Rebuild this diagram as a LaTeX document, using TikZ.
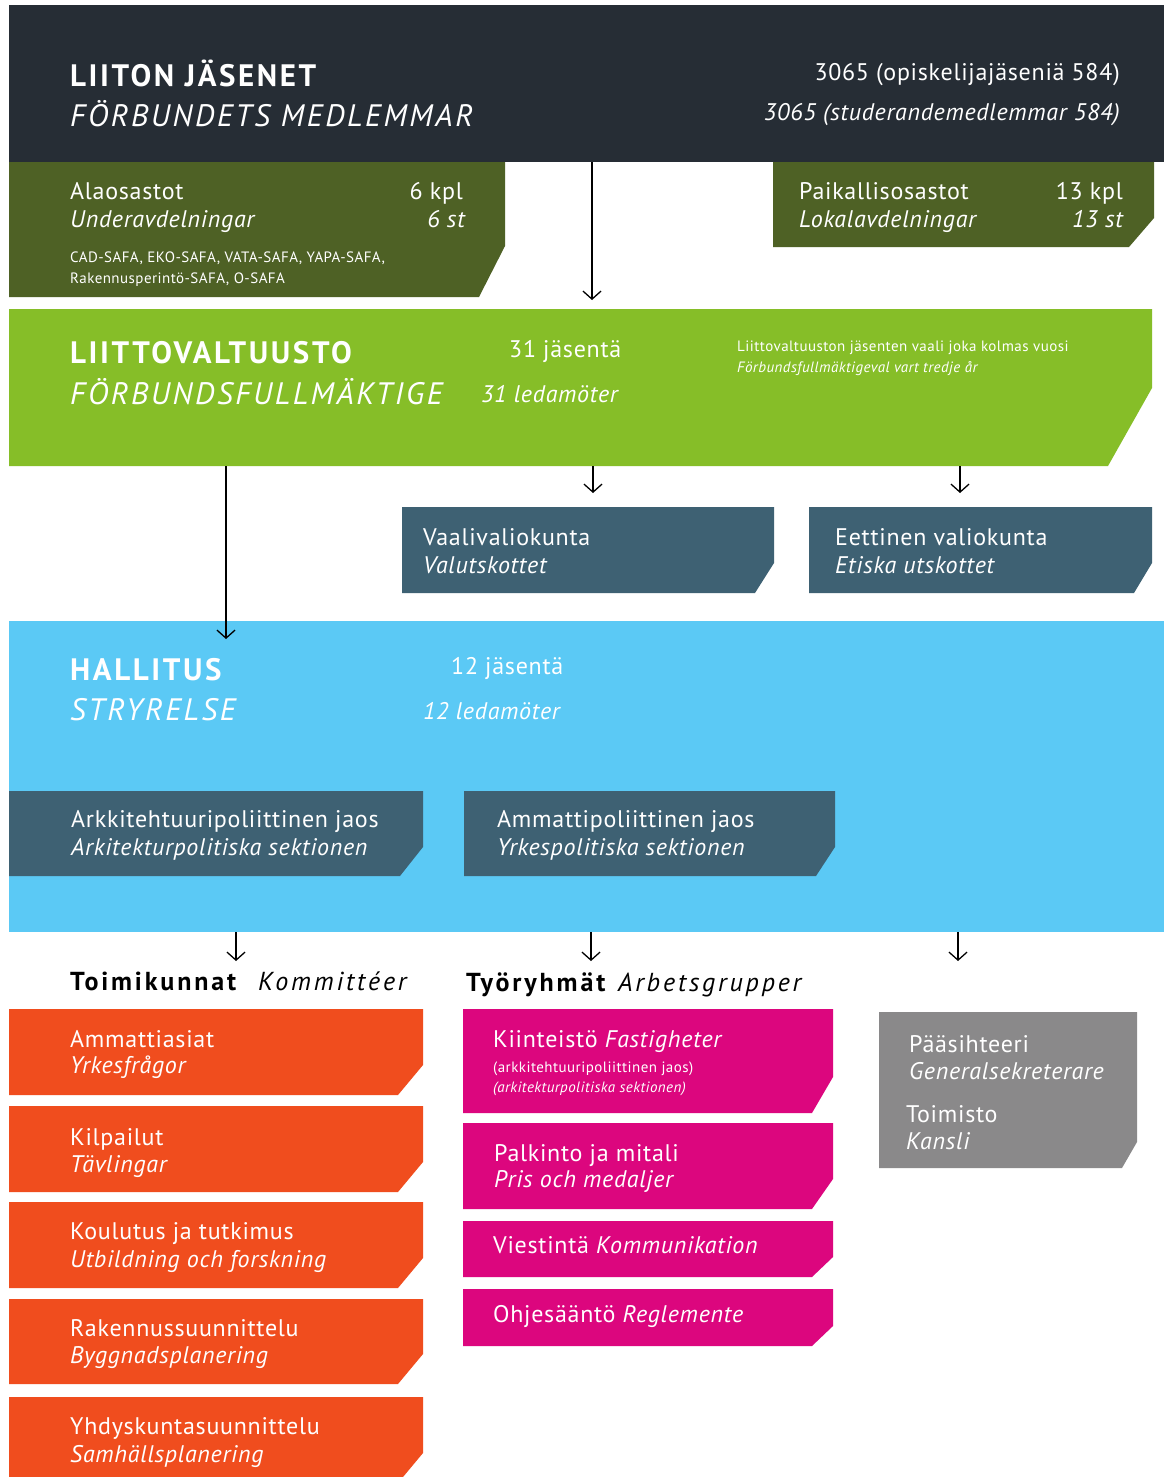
\documentclass[tikz,border=0pt]{standalone}
\usepackage{fontspec}
\setmainfont{PT Sans}[LetterSpace=3]
\newfontfamily\ttlfont{PT Sans}[LetterSpace=8.4]
\newfontfamily\hdfont{PT Sans}[LetterSpace=11]
\usetikzlibrary{arrows.meta}
\definecolor{cdark}{HTML}{262D35}
\definecolor{colive}{HTML}{4E6125}
\definecolor{cgreen}{HTML}{86BE28}
\definecolor{cslate}{HTML}{3E6173}
\definecolor{cblue}{HTML}{5BC9F5}
\definecolor{corange}{HTML}{F04D1E}
\definecolor{cmag}{HTML}{DC067E}
\definecolor{cgray}{HTML}{8A898A}
\newcommand\fsz[1]{\fontsize{#1}{#1}\selectfont}
\newcommand\cutbox[7]{\fill[#1] (#2,#3) -- (#4,#3) -- (#4,{#5-#7}) -- ({#4-#6},#5) -- (#2,#5) -- cycle;}
\tikzset{
  bt/.style={anchor=base west, inner sep=0pt, text=white, font=\fsz{24}},
  bi/.style={bt, font=\fsz{24}\itshape},
  btr/.style={bt, anchor=base east},
  bir/.style={bi, anchor=base east},
  ttl/.style={anchor=base west, inner sep=0pt, text=white, font=\ttlfont\fsz{31}\bfseries},
  tti/.style={anchor=base west, inner sep=0pt, text=white, font=\ttlfont\fsz{31}\itshape},
  hd/.style={anchor=base west, inner sep=0pt, text=black, font=\hdfont\fsz{26}},
  sm/.style={anchor=base west, inner sep=0pt, text=white, font=\fsz{15}},
  smi/.style={sm, font=\fsz{15}\itshape},
  arr/.style={line width=1.3pt, -{Straight Barb[length=8pt,width=18pt,line width=1.3pt]}},
}
\begin{document}
\begin{tikzpicture}[x=1pt,y=-1pt]
\fill[white] (0,0) rectangle (1164,1477);
\clip (0,0) rectangle (1164,1477);
% boxes
\fill[cdark] (9,5) rectangle (1164,162);
\cutbox{colive}{9}{162}{505}{297}{26}{51}
\cutbox{colive}{773}{162}{1154}{247}{25}{29}
\cutbox{cgreen}{9}{309}{1152}{466}{44}{78}
\cutbox{cslate}{402}{507}{774}{593}{19}{30}
\cutbox{cslate}{809}{507}{1152}{593}{18}{30}
\fill[cblue] (9,621) rectangle (1164,932);
\cutbox{cslate}{9}{791}{423}{876}{23}{29}
\cutbox{cslate}{464}{791}{835}{876}{19}{29}
\cutbox{corange}{9}{1009}{423}{1095}{25}{30}
\cutbox{corange}{9}{1106}{423}{1192}{25}{30}
\cutbox{corange}{9}{1202}{423}{1288}{25}{30}
\cutbox{corange}{9}{1299}{423}{1384}{25}{30}
\cutbox{corange}{9}{1397}{423}{1483}{25}{30}
\cutbox{cmag}{463}{1009}{833}{1113}{21}{36}
\cutbox{cmag}{463}{1123}{833}{1209}{21}{30}
\cutbox{cmag}{463}{1221}{833}{1277}{21}{20}
\cutbox{cmag}{463}{1289}{833}{1346}{21}{20}
\cutbox{cgray}{879}{1012}{1137}{1168}{15}{26}
% header
\node[ttl] (jas) at (70,87) {LIITON JÄSENET};
\node[tti] (jass) at (70,127) {FÖRBUNDETS MEDLEMMAR};
\node[btr] (jasn) at (1120,81) {3065 (opiskelijajäseniä 584)};
\node[bir] (jasns) at (1120,121) {3065 (studerandemedlemmar 584)};
% olive
\node[bt] (ala) at (70,199) {Alaosastot};
\node[bi] (alas) at (70,227) {Underavdelningar};
\node[btr] (alan) at (463,199) {6 kpl};
\node[bir] (alans) at (465,227) {6 st};
\node[sm] (safa1) at (70,262) {CAD-SAFA, EKO-SAFA, VATA-SAFA, YAPA-SAFA,};
\node[sm] (safa2) at (70,283) {Rakennusperintö-SAFA, O-SAFA};
\node[bt] (pai) at (799,199) {Paikallisosastot};
\node[bi] (pais) at (799,227) {Lokalavdelningar};
\node[btr] (pain) at (1123,199) {13 kpl};
\node[bir] (pains) at (1123,227) {13 st};
% green
\node[ttl] (lv) at (70,363) {LIITTOVALTUUSTO};
\node[tti] (lvs) at (70,404) {FÖRBUNDSFULLMÄKTIGE};
\node[bt] (lvn) at (509,357) {31 jäsentä};
\node[bir] (lvns) at (618,402) {31 ledamöter};
\node[sm] (lvv) at (737,351) {Liittovaltuuston jäsenten vaali joka kolmas vuosi};
\node[smi] (lvvs) at (737,372) {Förbundsfullmäktigeval vart tredje år};
% committees
\node[bt] (vaa) at (423,545) {Vaalivaliokunta};
\node[bi] (vaas) at (423,573) {Valutskottet};
\node[bt] (eet) at (835,545) {Eettinen valiokunta};
\node[bi] (eets) at (835,573) {Etiska utskottet};
% board
\node[ttl] (hal) at (70,680) {HALLITUS};
\node[tti] (hals) at (70,720) {STRYRELSE};
\node[bt] (haln) at (451,674) {12 jäsentä};
\node[bir] (halns) at (560,719) {12 ledamöter};
\node[bt] (ark) at (71,827) {Arkkitehtuuripoliittinen jaos};
\node[bi] (arks) at (71,855) {Arkitekturpolitiska sektionen};
\node[bt] (amm) at (497,827) {Ammattipoliittinen jaos};
\node[bi] (amms) at (497,855) {Yrkespolitiska sektionen};
% headings
\node[hd, font=\hdfont\fsz{26}\bfseries] (toi) at (70,990) {Toimikunnat};
\node[hd, font=\hdfont\fsz{26}\itshape] (tois) at (258,990) {Kommittéer};
\node[hd] (tyo) at (466,991) {\textbf{Työryhmät} \textit{Arbetsgrupper}};
% orange
\node[bt] (o1) at (70,1047) {Ammattiasiat};
\node[bi] (o1s) at (70,1073) {Yrkesfrågor};
\node[bt] (o2) at (70,1145) {Kilpailut};
\node[bi] (o2s) at (70,1172) {Tävlingar};
\node[bt] (o3) at (70,1239) {Koulutus ja tutkimus};
\node[bi] (o3s) at (70,1267) {Utbildning och forskning};
\node[bt] (o4) at (70,1336) {Rakennussuunnittelu};
\node[bi] (o4s) at (70,1363) {Byggnadsplanering};
\node[bt] (o5) at (70,1434) {Yhdyskuntasuunnittelu};
\node[bi] (o5s) at (70,1462) {Samhällsplanering};
% magenta
\node[bt] (m1) at (493,1047) {Kiinteistö \textit{Fastigheter}};
\node[sm] (m1a) at (493,1072) {(arkkitehtuuripoliittinen jaos)};
\node[smi] (m1b) at (493,1092) {(arkitekturpolitiska sektionen)};
\node[bt] (m2) at (494,1161) {Palkinto ja mitali};
\node[bi] (m2s) at (494,1187) {Pris och medaljer};
\node[bt] (m3) at (493,1253) {Viestintä \textit{Kommunikation}};
\node[bt] (m4) at (493,1322) {Ohjesääntö \textit{Reglemente}};
% gray
\node[bt] (g1) at (909,1052) {Pääsihteeri};
\node[bi] (g1s) at (909,1079) {Generalsekreterare};
\node[bt] (g2) at (906,1122) {Toimisto};
\node[bi] (g2s) at (906,1149) {Kansli};
% connectors
\coordinate (c1a) at (592,162); \coordinate (c1b) at (592,300);
\coordinate (c2a) at (593,466); \coordinate (c2b) at (593,493);
\coordinate (c3a) at (960,466); \coordinate (c3b) at (960,493);
\coordinate (c4a) at (226,466); \coordinate (c4b) at (226,639);
\coordinate (c5a) at (236,932); \coordinate (c5b) at (236,961);
\coordinate (c6a) at (591,932); \coordinate (c6b) at (591,961);
\coordinate (c7a) at (958,932); \coordinate (c7b) at (958,961);
\draw[arr] (c1a) -- (c1b);
\draw[arr] (c2a) -- (c2b);
\draw[arr] (c3a) -- (c3b);
\draw[arr] (c4a) -- (c4b);
\draw[arr] (c5a) -- (c5b);
\draw[arr] (c6a) -- (c6b);
\draw[arr] (c7a) -- (c7b);
\end{tikzpicture}
\end{document}
